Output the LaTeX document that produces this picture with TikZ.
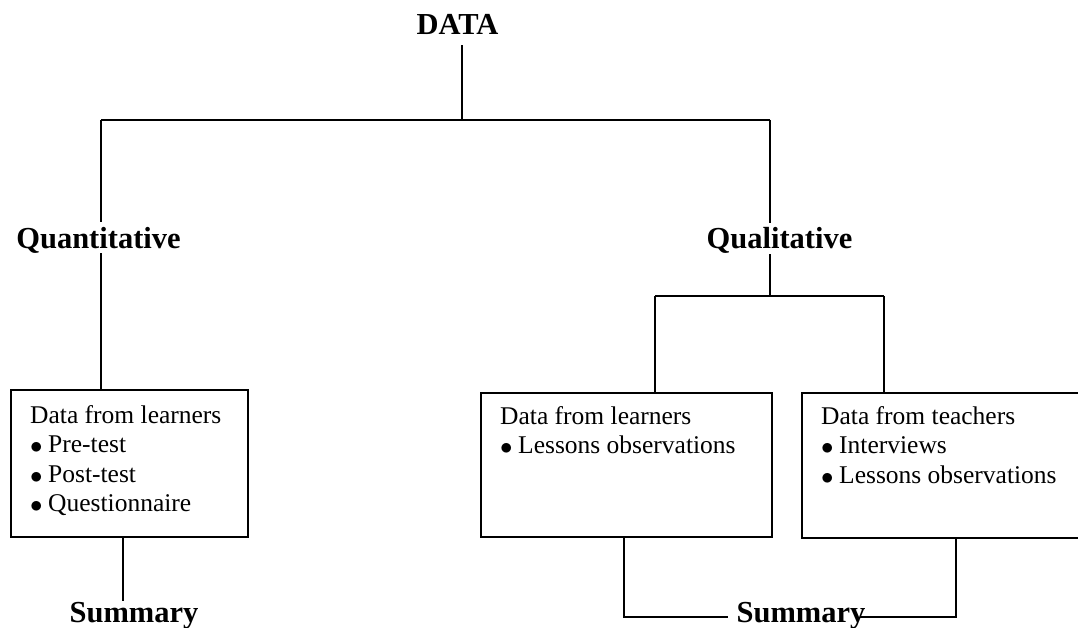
\documentclass[tikz,border=0pt]{standalone}
\usepackage{fontspec}
\setmainfont{Liberation Serif}
\newcommand{\bitem}{\makebox[18pt][l]{\raisebox{-0.8pt}{$\bullet$}}}
\tikzset{
  wire/.style={line width=1.8pt},
  head/.style={font=\fontsize{30.5}{36}\selectfont\bfseries, inner xsep=0pt,
    inner ysep=5pt, text height=20.5pt, text depth=0pt, anchor=base},
  frame/.style={draw, line width=1.8pt, anchor=north west, inner sep=0pt},
  body/.style={font=\fontsize{25.5}{29.3}\selectfont, align=left,
    anchor=north west, inner sep=0pt},
}
\begin{document}
\begin{tikzpicture}[x=1pt,y=-1pt]
  \useasboundingbox (0,0) rectangle (1078,628);
  \clip (0,0) rectangle (1078,628);

  % headings
  \node[head, inner ysep=10pt] (data) at (457.5,35) {DATA};
  \node[head] (quant) at (98.5,248) {Quantitative};
  \node[head] (qual) at (779.5,249) {Qualitative};
  \node[head, inner ysep=0pt] (sum1) at (134,622) {Summary};
  \node[head, inner ysep=0pt] (sum2) at (801,622) {Summary};

  % frames
  \node[frame, minimum width=237pt, minimum height=147pt] (box1) at (10,389) {};
  \node[frame, minimum width=291pt, minimum height=144pt] (box2) at (480,392) {};
  \node[frame, minimum width=300pt, minimum height=145pt] (box3) at (801,392) {};

  % frame contents
  \node[body] (t1) at (30,405.5) {Data from learners\\ \bitem Pre-test\\ \bitem Post-test\\ \bitem Questionnaire};
  \node[body] (t2) at (500,406.5) {Data from learners\\ \bitem Lessons observations};
  \node[body] (t3) at (821,406.5) {Data from teachers\\ \bitem Interviews\\ \bitem Lessons observations};

  % junction points
  \coordinate (jtop) at (462,120);
  \coordinate (jl) at (101,120);
  \coordinate (jr) at (770,120);
  \coordinate (kmid) at (770,296);
  \coordinate (kl) at (655,296);
  \coordinate (kr) at (884,296);
  \coordinate (q1) at (123,0);
  \coordinate (q2) at (624,0);
  \coordinate (q3) at (956,0);
  \coordinate (s2l) at (728,617);
  \coordinate (s2r) at (860,617);

  % tree connectors
  \draw[wire] (data.south -| jtop) -- (jtop);
  \draw[wire] (jl) -- (jr);
  \draw[wire] (jl) -- (quant.north -| jl);
  \draw[wire] (quant.south -| jl) -- (box1.north -| jl);
  \draw[wire] (jr) -- (qual.north -| jr);
  \draw[wire] (qual.south -| jr) -- (kmid);
  \draw[wire] (kl) -- (kr);
  \draw[wire] (kl) -- (box2.north -| kl);
  \draw[wire] (kr) -- (box3.north -| kr);

  % summary connectors
  \draw[wire] (box1.south -| q1) -- (sum1.north -| q1);
  \draw[wire] (box2.south -| q2) |- (s2l);
  \draw[wire] (box3.south -| q3) |- (s2r);
\end{tikzpicture}
\end{document}
